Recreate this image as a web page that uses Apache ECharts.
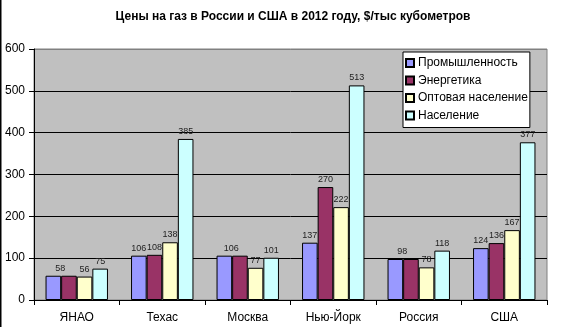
<!DOCTYPE html>
<html><head><meta charset="utf-8">
<script src="https://cdn.jsdelivr.net/npm/echarts@6/dist/echarts.min.js"></script>
<style>html,body{margin:0;padding:0;background:#fff}#c{width:564px;height:327px}</style>
</head><body><div id="c"></div>
<script>
const categories = ['ЯНАО', 'Техас', 'Москва', 'Нью-Йорк', 'Россия', 'США'];
const seriesNames = ['Промышленность', 'Энергетика', 'Оптовая население', 'Население'];
const industry = [58, 106, 106, 137, 98, 124];
const energy = [58, 108, 106, 270, 98, 136];
const wholesale = [56, 138, 77, 222, 78, 167];
const residential = [75, 385, 101, 513, 118, 377];
const yTicks = [0, 100, 200, 300, 400, 500, 600];
const colors = ['#9999FF', '#993366', '#FFFFCC', '#CCFFFF'];

const values = [industry, energy, wholesale, residential];
const font = 'Liberation Sans, Arial, sans-serif';

const series = values.map((arr, si) => ({
  name: seriesNames[si],
  type: 'bar',
  barGap: '0%',
  barCategoryGap: '27%',
  itemStyle: { color: colors[si], borderColor: '#000', borderWidth: 1 },
  data: arr.map((v, i) => {
    const dup = si === 1 && industry[i] === v;
    const shifted = si === 0 && energy[i] === v;
    return {
      value: v,
      label: { show: !dup, offset: [shifted ? 7 : 0, 0] }
    };
  }),
  label: {
    show: true, position: 'top', distance: 3,
    fontFamily: font, fontSize: 9, color: '#222'
  }
}));

const chart = echarts.init(document.getElementById('c'));
chart.setOption({
  animation: false,
  backgroundColor: '#fff',
  title: {
    text: 'Цены на газ в России и США в 2012 году, $/тыс кубометров',
    left: 288, top: 6, textAlign: 'center',
    textStyle: { fontFamily: font, fontSize: 12, fontWeight: 'bold', color: '#000' }
  },
  legend: {
    orient: 'vertical', left: 403, top: 52,
    backgroundColor: '#fff', borderColor: '#000', borderWidth: 1,
    padding: [5, 2, 6, 2], itemGap: 5.5, itemWidth: 8, itemHeight: 8, icon: 'rect',
    textStyle: { fontFamily: font, fontSize: 12, color: '#000', padding: [0, 0, 0, -1] },
    data: seriesNames
  },
  grid: {
    left: 34, right: 17, top: 49, bottom: 27,
    show: true, backgroundColor: '#C0C0C0', borderColor: '#808080', borderWidth: 1
  },
  xAxis: {
    type: 'category', data: categories,
    axisLine: { lineStyle: { color: '#000' } },
    axisTick: { show: true, length: 5, lineStyle: { color: '#000' } },
    axisLabel: { fontFamily: font, fontSize: 12, color: '#000', margin: 12 }
  },
  yAxis: {
    type: 'value', min: 0, max: 600, interval: 100,
    axisLine: { show: true, lineStyle: { color: '#000' } },
    axisTick: { show: true, length: 5, lineStyle: { color: '#000' } },
    axisLabel: { fontFamily: font, fontSize: 12, color: '#000', margin: 9,
      formatter: v => yTicks.includes(v) ? String(v) : '' },
    splitLine: { show: true, lineStyle: { color: ['#000', '#000', '#000', '#000', '#000', '#000', '#808080'] } }
  },
  graphic: [{ type: 'rect', left: 0, top: 0, shape: { width: 1.5, height: 327 }, style: { fill: '#000' } }],
  series
});
</script></body></html>
